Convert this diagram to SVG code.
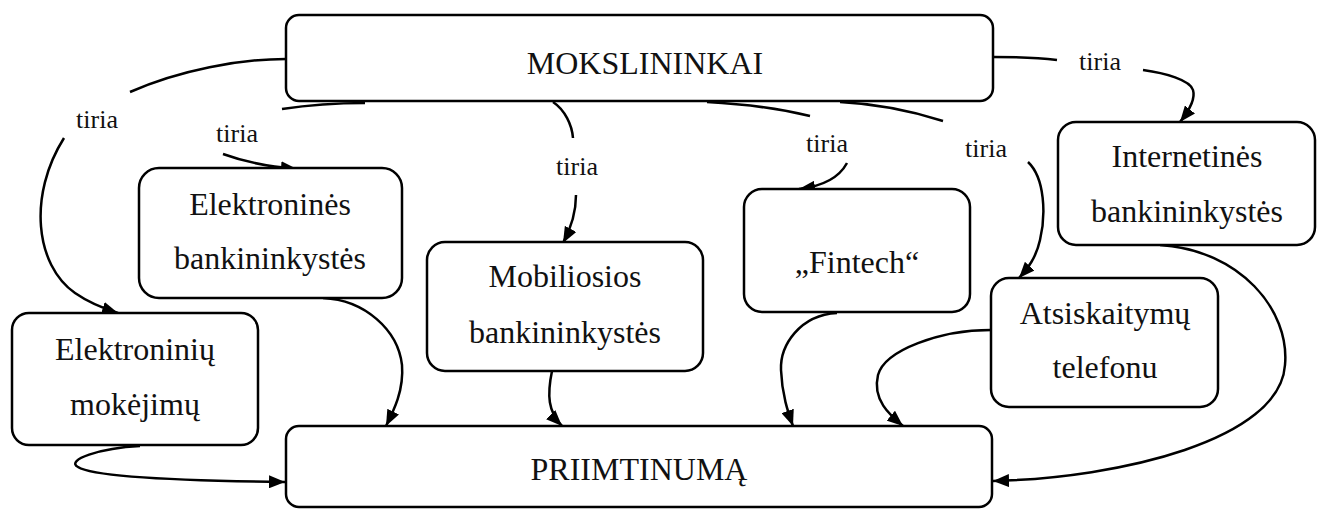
<svg xmlns="http://www.w3.org/2000/svg" width="1322" height="509" viewBox="0 0 1322 509">
  <style>
    .box { fill: #fff; stroke: #000; stroke-width: 2.5; }
    .lbl { font-family: "Liberation Serif", "Times New Roman", serif; font-size: 32px; fill: #111; text-anchor: middle; }
    .edge { fill: none; stroke: #000; stroke-width: 2.5; }
    .tag { font-family: "Liberation Serif", "Times New Roman", serif; font-size: 26px; fill: #111; text-anchor: middle; }
  </style>
  <defs>
    <marker id="arrow" markerUnits="userSpaceOnUse" markerWidth="16" markerHeight="13" refX="16" refY="6.5" orient="auto">
      <path d="M0,0 L16,6.5 L0,13 z" fill="#000"/>
    </marker>
  </defs>
  <rect width="1322" height="509" fill="#fff"/>

  <!-- connectors -->
  <g id="connectors">
    <!-- MOKSLININKAI -> Elektroniniu mokejimu -->
    <path class="edge" d="M286,59 C240,59 180,70 130,92"/>
    <path class="edge" d="M64,138 C28,195 35,265 75,293 C88,302 102,308 118,313" marker-end="url(#arrow)"/>
    <text class="tag" x="97" y="128">tiria</text>

    <!-- MOKSLININKAI -> Elektronines bankininkystes -->
    <path class="edge" d="M365,103 C330,103 302,106 282,109"/>
    <path class="edge" d="M223,154 C245,162 270,167 297,169" marker-end="url(#arrow)"/>
    <text class="tag" x="237" y="142">tiria</text>

    <!-- MOKSLININKAI -> Mobiliosios bankininkystes -->
    <path class="edge" d="M553,102 C565,110 572,125 573,138"/>
    <path class="edge" d="M576,195 C576,215 570,230 563,243" marker-end="url(#arrow)"/>
    <text class="tag" x="577" y="175">tiria</text>

    <!-- MOKSLININKAI -> Fintech -->
    <path class="edge" d="M707,102 C745,104 785,110 810,116"/>
    <path class="edge" d="M847,163 C840,176 825,186 799,189" marker-end="url(#arrow)"/>
    <text class="tag" x="827" y="152">tiria</text>

    <!-- MOKSLININKAI -> Atsiskaitymu telefonu -->
    <path class="edge" d="M840,102 C880,104 915,112 943,121"/>
    <path class="edge" d="M1028,162 C1045,178 1046,215 1040,240 C1036,258 1028,268 1019,278" marker-end="url(#arrow)"/>
    <text class="tag" x="986" y="157">tiria</text>

    <!-- MOKSLININKAI -> Internetines bankininkystes -->
    <path class="edge" d="M993,57 C1020,57 1040,58 1057,60"/>
    <path class="edge" d="M1143,70 C1165,73 1190,80 1193,90 C1196,100 1188,112 1180,122" marker-end="url(#arrow)"/>
    <text class="tag" x="1100" y="70">tiria</text>

    <!-- nodes -> PRIIMTINUMA -->
    <path class="edge" d="M323,298 C365,300 398,330 402,365 C404,390 394,410 386,426" marker-end="url(#arrow)"/>
    <path class="edge" d="M552,371 C547,395 548,412 562,426" marker-end="url(#arrow)"/>
    <path class="edge" d="M837,313 C800,315 780,345 781,370 C782,395 788,412 793,426" marker-end="url(#arrow)"/>
    <path class="edge" d="M991,330 C940,330 885,350 878,375 C872,400 890,415 903,426" marker-end="url(#arrow)"/>
    <path class="edge" d="M1160,245 C1240,250 1290,310 1285,365 C1280,440 1120,478 993,481" marker-end="url(#arrow)"/>
    <path class="edge" d="M140,446 C100,448 65,460 78,467 C95,478 200,481 285,482" marker-end="url(#arrow)"/>
  </g>

  <!-- nodes -->
  <g id="mokslininkai">
    <rect class="box" x="286" y="15" width="707" height="86" rx="13"/>
    <text class="lbl" x="645" y="74">MOKSLININKAI</text>
  </g>
  <g id="elektronines-bankininkystes">
    <rect class="box" x="139" y="168" width="263" height="130" rx="20"/>
    <text class="lbl" x="270" y="215">Elektroninės</text>
    <text class="lbl" x="270" y="269">bankininkystės</text>
  </g>
  <g id="mobiliosios-bankininkystes">
    <rect class="box" x="427" y="242" width="276" height="129" rx="18"/>
    <text class="lbl" x="565" y="287">Mobiliosios</text>
    <text class="lbl" x="565" y="343">bankininkystės</text>
  </g>
  <g id="fintech">
    <rect class="box" x="744" y="189" width="226" height="123" rx="18"/>
    <text class="lbl" x="857" y="273">„Fintech“</text>
  </g>
  <g id="internetines-bankininkystes">
    <rect class="box" x="1058" y="122" width="257" height="123" rx="18"/>
    <text class="lbl" x="1187" y="167">Internetinės</text>
    <text class="lbl" x="1187" y="222">bankininkystės</text>
  </g>
  <g id="elektroniniu-mokejimu">
    <rect class="box" x="12" y="313" width="246" height="132" rx="17"/>
    <text class="lbl" x="135" y="360">Elektroninių</text>
    <text class="lbl" x="135" y="415">mokėjimų</text>
  </g>
  <g id="atsiskaitymu-telefonu">
    <rect class="box" x="991" y="278" width="227" height="129" rx="18"/>
    <text class="lbl" x="1105" y="324">Atsiskaitymų</text>
    <text class="lbl" x="1105" y="378">telefonu</text>
  </g>
  <g id="priimtinuma">
    <rect class="box" x="286" y="426" width="706" height="81" rx="13"/>
    <text class="lbl" x="639" y="480">PRIIMTINUMĄ</text>
  </g>
</svg>
